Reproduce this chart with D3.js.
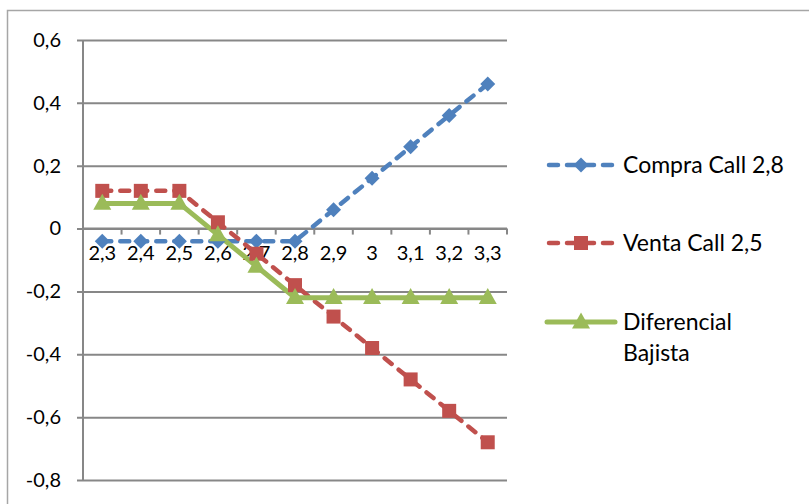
<!DOCTYPE html>
<html>
<head>
<meta charset="utf-8">
<script src="https://cdn.jsdelivr.net/npm/d3@7"></script>
<style>
  html, body { margin: 0; padding: 0; background: #fff; }
  svg { display: block; }
  text { font-family: Lato, "Open Sans", sans-serif; fill: #000; }
</style>
</head>
<body>
<svg id="chart" width="809" height="504"></svg>
<script>
// ---- data ----
const categories = [2.3, 2.4, 2.5, 2.6, 2.7, 2.8, 2.9, 3.0, 3.1, 3.2, 3.3];
const categoryLabels = ["2,3", "2,4", "2,5", "2,6", "2,7", "2,8", "2,9", "3", "3,1", "3,2", "3,3"];
const compraCall = [-0.04, -0.04, -0.04, -0.04, -0.04, -0.04, 0.06, 0.16, 0.26, 0.36, 0.46];
const ventaCall = [0.12, 0.12, 0.12, 0.02, -0.08, -0.18, -0.28, -0.38, -0.48, -0.58, -0.68];
const diferencial = [0.08, 0.08, 0.08, -0.02, -0.12, -0.22, -0.22, -0.22, -0.22, -0.22, -0.22];
const yTicks = [-0.8, -0.6, -0.4, -0.2, 0, 0.2, 0.4, 0.6];
const seriesNames = ["Compra Call 2,8", "Venta Call 2,5", ["Diferencial", "Bajista"]];

// ---- layout ----
const svg = d3.select("#chart");
const plotLeft = 83, plotRight = 507, plotTop = 40, plotBottom = 480;
const gridColor = "#878787";
const colors = ["#4F81BD", "#C0504D", "#9BBB59"];

const x = d3.scaleBand().domain(categories).range([plotLeft, plotRight]).padding(0);
const y = d3.scaleLinear().domain([-0.8, 0.6]).range([plotBottom, plotTop]);
const loc = d3.formatLocale({decimal: ",", thousands: ".", grouping: [3], currency: ["", ""], minus: "-"});
const fmt = loc.format("~g");

// outer border
svg.append("rect").attr("x", 7.5).attr("y", 10.5).attr("width", 820).attr("height", 520)
  .attr("fill", "none").attr("stroke", "#a6a6a6").attr("stroke-width", 1.5);

// y gridlines + axis
const yAxis = d3.axisLeft(y).tickValues(yTicks).tickSize(-(plotRight - plotLeft)).tickPadding(22).tickFormat(fmt);
const gy = svg.append("g").attr("transform", `translate(${plotLeft},0)`).call(yAxis);
gy.select(".domain").remove();
gy.selectAll(".tick line").attr("stroke", gridColor).attr("stroke-width", 2).attr("x1", -6);
gy.selectAll(".tick text").attr("font-size", 20).attr("font-family", "Lato, sans-serif").attr("fill", "#000");
// vertical axis line
svg.append("line").attr("x1", plotLeft).attr("x2", plotLeft).attr("y1", plotTop).attr("y2", plotBottom)
  .attr("stroke", gridColor).attr("stroke-width", 2);

// horizontal category axis at zero
const zeroY = y(0);
svg.append("line").attr("x1", plotLeft).attr("x2", plotRight).attr("y1", zeroY).attr("y2", zeroY)
  .attr("stroke", gridColor).attr("stroke-width", 2);
const boundaries = categories.map(c => x(c)).concat([x(categories[categories.length - 1]) + x.bandwidth()]);
svg.append("g").selectAll("line").data(boundaries).join("line")
  .attr("x1", d => d).attr("x2", d => d).attr("y1", zeroY).attr("y2", zeroY + 6)
  .attr("stroke", gridColor).attr("stroke-width", 2);
svg.append("g").selectAll("text").data(categories).join("text")
  .attr("x", d => x(d) + x.bandwidth() / 2).attr("y", zeroY + 31)
  .attr("text-anchor", "middle").attr("font-size", 20)
  .text((d, i) => categoryLabels[i]);

// series
const line = d3.line().x((d, i) => x(categories[i]) + x.bandwidth() / 2).y(d => y(d));
const cx = i => x(categories[i]) + x.bandwidth() / 2;

function diamondPath(s) { return `M0,${-s}L${s},0L0,${s}L${-s},0Z`; }
function trianglePath(w, h) { return `M0,${-h * 0.6}L${w / 2},${h * 0.4}L${-w / 2},${h * 0.4}Z`; }

// Compra (blue dashed, diamonds)
svg.append("path").datum(compraCall).attr("d", line).attr("fill", "none")
  .attr("stroke", colors[0]).attr("stroke-width", 4.5).attr("stroke-dasharray", "9,9").attr("stroke-linecap", "round");
// Venta (red dashed, squares)
svg.append("path").datum(ventaCall).attr("d", line).attr("fill", "none")
  .attr("stroke", colors[1]).attr("stroke-width", 4.5).attr("stroke-dasharray", "9,9").attr("stroke-linecap", "round");
// Diferencial (green solid, triangles)
svg.append("path").datum(diferencial).attr("d", line).attr("fill", "none")
  .attr("stroke", colors[2]).attr("stroke-width", 5);

svg.append("g").selectAll("path").data(compraCall).join("path")
  .attr("transform", (d, i) => `translate(${cx(i)},${y(d)})`).attr("d", diamondPath(7.5)).attr("fill", colors[0]);
svg.append("g").selectAll("rect").data(ventaCall).join("rect")
  .attr("x", (d, i) => cx(i) - 7).attr("y", d => y(d) - 7).attr("width", 14).attr("height", 14).attr("fill", colors[1]);
svg.append("g").selectAll("path").data(diferencial).join("path")
  .attr("transform", (d, i) => `translate(${cx(i)},${y(d)})`).attr("d", trianglePath(18, 16)).attr("fill", colors[2]);

// legend
const legendRows = [165, 243, 322];
const lg = svg.append("g");
// Compra
lg.append("line").attr("x1", 549).attr("x2", 613).attr("y1", legendRows[0]).attr("y2", legendRows[0])
  .attr("stroke", colors[0]).attr("stroke-width", 4.5).attr("stroke-dasharray", "9,9").attr("stroke-linecap", "round");
lg.append("path").attr("transform", `translate(581,${legendRows[0]})`).attr("d", diamondPath(7.5)).attr("fill", colors[0]);
// Venta
lg.append("line").attr("x1", 549).attr("x2", 613).attr("y1", legendRows[1]).attr("y2", legendRows[1])
  .attr("stroke", colors[1]).attr("stroke-width", 4.5).attr("stroke-dasharray", "9,9").attr("stroke-linecap", "round");
lg.append("rect").attr("x", 574).attr("y", legendRows[1] - 7).attr("width", 14).attr("height", 14).attr("fill", colors[1]);
// Diferencial
lg.append("line").attr("x1", 547).attr("x2", 615).attr("y1", legendRows[2]).attr("y2", legendRows[2])
  .attr("stroke", colors[2]).attr("stroke-width", 5).attr("stroke-linecap", "round");
lg.append("path").attr("transform", `translate(581,${legendRows[2]})`).attr("d", trianglePath(18, 16)).attr("fill", colors[2]);

lg.append("text").attr("x", 623).attr("y", legendRows[0] + 8).attr("font-size", 23).text(seriesNames[0]);
lg.append("text").attr("x", 623).attr("y", legendRows[1] + 8).attr("font-size", 23).text(seriesNames[1]);
lg.append("text").attr("x", 623).attr("y", legendRows[2] + 8).attr("font-size", 23).text(seriesNames[2][0]);
lg.append("text").attr("x", 623).attr("y", legendRows[2] + 39).attr("font-size", 23).text(seriesNames[2][1]);
</script>
</body>
</html>
